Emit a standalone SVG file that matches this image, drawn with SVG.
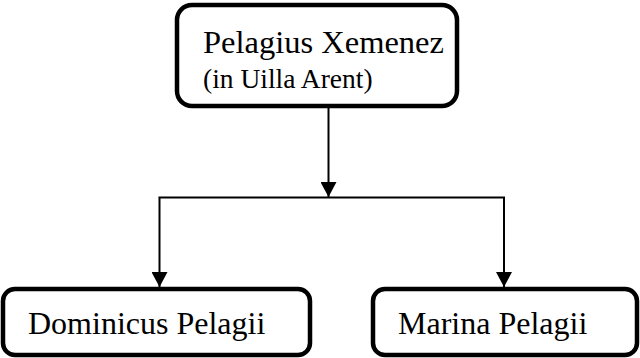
<svg xmlns="http://www.w3.org/2000/svg" width="640" height="358" viewBox="0 0 640 358">
<defs>
<style>
.box{fill:#fff;stroke:#000;stroke-width:4.5}
.t{font-family:"Liberation Serif","Times New Roman",serif;fill:#000}
.c{stroke:#000;stroke-width:2;fill:none}
</style>
<marker id="ah" markerUnits="userSpaceOnUse" markerWidth="16" markerHeight="16" viewBox="0 0 16 16" refX="15" refY="8" orient="auto">
<path d="M0,0 L15,8 L0,16 Z" fill="#000"/>
</marker>
</defs>
<g id="connectors">
<path class="c" d="M328.5,107 V197" marker-end="url(#ah)"/>
<path class="c" d="M159.5,198 V197.5 H504 V198"/>
<path class="c" d="M159.5,197.5 V287" marker-end="url(#ah)"/>
<path class="c" d="M504,197.5 V287" marker-end="url(#ah)"/>
</g>
<g id="pelagius">
<rect class="box" x="177" y="5" width="280" height="101" rx="15"/>
<text class="t" x="203" y="53" font-size="32.5">Pelagius Xemenez</text>
<text class="t" x="203" y="88" font-size="27.5">(in Uilla Arent)</text>
</g>
<g id="dominicus">
<rect class="box" x="3" y="289" width="307" height="66" rx="12"/>
<text class="t" x="28" y="334" font-size="32">Dominicus Pelagii</text>
</g>
<g id="marina">
<rect class="box" x="373" y="289" width="264" height="66" rx="12"/>
<text class="t" x="398" y="334" font-size="32">Marina Pelagii</text>
</g>
</svg>
